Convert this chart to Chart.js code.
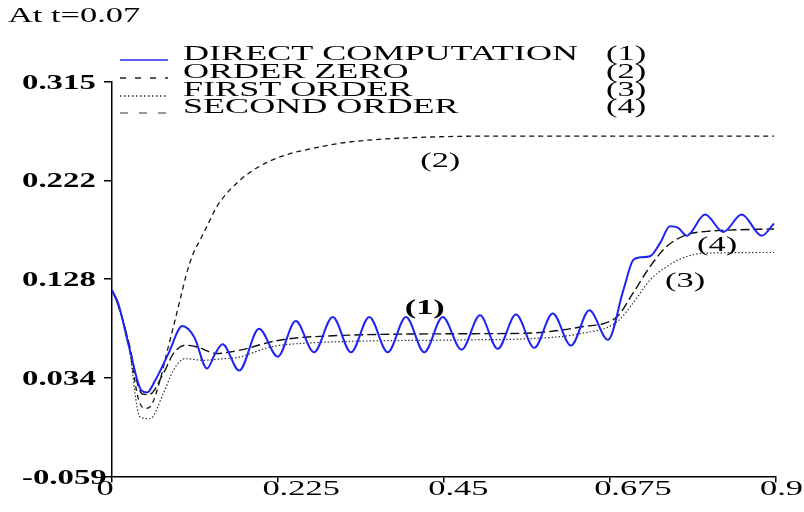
<!DOCTYPE html>
<html>
<head>
<meta charset="utf-8">
<script src="https://cdn.jsdelivr.net/npm/chart.js@4.4.1/dist/chart.umd.min.js"></script>
<style>
  html, body { margin: 0; padding: 0; background: #fff; }
  canvas { display: block; }
</style>
</head>
<body>
<canvas id="chart" width="804" height="512"></canvas>
<script>
// data
const xDirect = [0, 0.0085, 0.023, 0.0403, 0.0475, 0.0583, 0.0764, 0.0955, 0.1116, 0.129, 0.14, 0.15, 0.1725, 0.1994, 0.2248, 0.2492, 0.274, 0.2994, 0.3242, 0.349, 0.374, 0.3988, 0.4236, 0.4486, 0.4741, 0.4992, 0.5232, 0.548, 0.5728, 0.5978, 0.6226, 0.6475, 0.6728, 0.6936, 0.7071, 0.7162, 0.7298, 0.7434, 0.7569, 0.7682, 0.7796, 0.8044, 0.8292, 0.8542, 0.8813, 0.898];
const yDirect = [0.1175, 0.1048, 0.064, 0.0221, 0.0205, 0.0316, 0.0571, 0.0834, 0.0729, 0.0432, 0.0574, 0.0662, 0.0413, 0.0809, 0.0545, 0.0882, 0.0586, 0.092, 0.0586, 0.092, 0.0586, 0.092, 0.0586, 0.092, 0.061, 0.0936, 0.0619, 0.0943, 0.0628, 0.0953, 0.065, 0.0984, 0.0704, 0.1175, 0.1461, 0.1485, 0.1495, 0.162, 0.1779, 0.1764, 0.169, 0.189, 0.1725, 0.189, 0.169, 0.1805];

const xZero = [0, 0.0085, 0.0221, 0.036, 0.045, 0.0515, 0.0651, 0.0742, 0.0832, 0.0922, 0.1013, 0.1103, 0.1194, 0.1285, 0.142, 0.1556, 0.1736, 0.1917, 0.212, 0.2347, 0.2618, 0.3184, 0.4178, 0.544, 0.898];
const yZero = [0.1175, 0.103, 0.068, 0.014, 0.0055, 0.0068, 0.0321, 0.0577, 0.0826, 0.1079, 0.1335, 0.1524, 0.1648, 0.1774, 0.1963, 0.209, 0.2216, 0.2311, 0.239, 0.2453, 0.2501, 0.2574, 0.2621, 0.2633, 0.2633];

const xFirst = [0, 0.0085, 0.0221, 0.038, 0.0515, 0.0696, 0.0832, 0.099, 0.1238, 0.151, 0.1709, 0.215, 0.2618, 0.4856, 0.5625, 0.6348, 0.6846, 0.7067, 0.7298, 0.7524, 0.7796, 0.8067, 0.898];
const yFirst = [0.1175, 0.103, 0.068, -0.0027, -0.0043, 0.0195, 0.0415, 0.0526, 0.051, 0.0526, 0.0538, 0.0636, 0.0672, 0.0704, 0.0714, 0.0762, 0.0872, 0.1051, 0.127, 0.1397, 0.1493, 0.1525, 0.1531];

const xSecond = [0, 0.0085, 0.0221, 0.0403, 0.05, 0.0696, 0.0832, 0.0997, 0.1156, 0.142, 0.16, 0.1827, 0.215, 0.2618, 0.4856, 0.5625, 0.6348, 0.6846, 0.7067, 0.7298, 0.7524, 0.7796, 0.8067, 0.8288, 0.898];
const ySecond = [0.1175, 0.103, 0.0698, 0.0195, 0.0185, 0.0384, 0.0574, 0.0653, 0.0636, 0.0574, 0.0589, 0.0621, 0.0684, 0.0729, 0.0762, 0.0767, 0.0825, 0.092, 0.1146, 0.1397, 0.1588, 0.17, 0.1731, 0.1741, 0.1754];

const seriesNames = ["DIRECT COMPUTATION", "ORDER ZERO", "FIRST ORDER", "SECOND ORDER"];
const seriesTags = ["(1)", "(2)", "(3)", "(4)"];

const xTickValues = [0, 0.225, 0.45, 0.675, 0.9];
const xTickLabels = ["0", "0.225", "0.45", "0.675", "0.9"];
const yTickValues = [-0.059, 0.0345, 0.128, 0.2215, 0.315];
const yTickLabels = ["-0.059", "0.034", "0.128", "0.222", "0.315"];

const titleText = "At t=0.07";

// where the (n) tags sit next to the curves, in data units
const curveTags = [
  { text: "(1)", x: 0.397, y: 0.0951, bold: true },
  { text: "(2)", x: 0.418, y: 0.2344, bold: false },
  { text: "(3)", x: 0.7501, y: 0.1207, bold: false },
  { text: "(4)", x: 0.7935, y: 0.1548, bold: false },
];

const SX = 1.64; // the picture's lettering is stretched wide
const FONT = '"Liberation Serif", "Times New Roman", serif';

function toPoints(xs, ys) {
  return xs.map((x, i) => ({ x: x, y: ys[i] }));
}

function wideText(ctx, text, x, y, font) {
  ctx.save();
  ctx.font = font;
  ctx.textBaseline = "alphabetic";
  ctx.textAlign = "left";
  ctx.translate(x, y);
  ctx.scale(SX, 1);
  ctx.fillText(text, 0, 0);
  ctx.restore();
}

const legendDash = [[], [6, 9], [1.5, 2.5], [8, 11]];
const legendColor = ["#2a2df0", "#222", "#333", "#777"];

const textPlugin = {
  id: "textPlugin",
  afterDraw(chart) {
    const ctx = chart.ctx;
    const xs = chart.scales.x;
    const ys = chart.scales.y;
    ctx.fillStyle = "#000";

    wideText(ctx, titleText, 8, 22, "21px " + FONT);

    ys.ticks.forEach((t, i) => {
      wideText(ctx, yTickLabels[i], 22, ys.getPixelForValue(t.value) + 7, "bold 20px " + FONT);
    });
    xs.ticks.forEach((t, i) => {
      wideText(ctx, xTickLabels[i], xs.getPixelForValue(t.value) - 15.5, 495, "21px " + FONT);
    });

    // legend
    const baselines = [60, 78, 96, 113];
    seriesNames.forEach((name, i) => {
      const y = baselines[i];
      ctx.save();
      ctx.strokeStyle = legendColor[i];
      ctx.lineWidth = i === 0 ? 1.5 : 1.3;
      ctx.setLineDash(legendDash[i]);
      ctx.beginPath();
      ctx.moveTo(120, y);
      ctx.lineTo(168, y);
      ctx.stroke();
      ctx.restore();
      wideText(ctx, name, 183, y, "22px " + FONT);
      wideText(ctx, seriesTags[i], 606, y, "21px " + FONT);
    });

    curveTags.forEach((tag) => {
      wideText(ctx, tag.text, xs.getPixelForValue(tag.x), ys.getPixelForValue(tag.y),
        (tag.bold ? "bold " : "") + "21px " + FONT);
    });
  },
};

new Chart(document.getElementById("chart"), {
  type: "line",
  data: {
    datasets: [
      {
        label: seriesNames[0],
        data: toPoints(xDirect, yDirect),
        borderColor: "#1f24f2",
        borderWidth: 2,
      },
      {
        label: seriesNames[1],
        data: toPoints(xZero, yZero),
        borderColor: "#111",
        borderWidth: 1.3,
        borderDash: [5, 4],
      },
      {
        label: seriesNames[2],
        data: toPoints(xFirst, yFirst),
        borderColor: "#333",
        borderWidth: 1.2,
        borderDash: [1.5, 2],
      },
      {
        label: seriesNames[3],
        data: toPoints(xSecond, ySecond),
        borderColor: "#111",
        borderWidth: 1.4,
        borderDash: [9, 4],
      },
    ],
  },
  options: {
    responsive: false,
    animation: false,
    layout: { padding: { top: 81.5, right: 28.5, left: 0, bottom: 0 } },
    elements: {
      point: { radius: 0 },
      line: { cubicInterpolationMode: "monotone", fill: false },
    },
    plugins: {
      legend: { display: false },
      tooltip: { enabled: false },
    },
    scales: {
      x: {
        type: "linear",
        min: 0,
        max: 0.9,
        afterBuildTicks: (s) => { s.ticks = xTickValues.map((v) => ({ value: v })); },
        afterFit: (s) => { s.height = 35.5; },
        ticks: { display: false },
        grid: { drawOnChartArea: false, drawTicks: true, tickLength: 6, color: "#000", lineWidth: 1.5 },
        border: { display: true, color: "#000", width: 1.5 },
      },
      y: {
        type: "linear",
        min: -0.059,
        max: 0.315,
        afterBuildTicks: (s) => { s.ticks = yTickValues.map((v) => ({ value: v })); },
        afterFit: (s) => { s.width = 112; },
        ticks: { display: false },
        grid: { drawOnChartArea: false, drawTicks: true, tickLength: 8, color: "#000", lineWidth: 1.5 },
        border: { display: true, color: "#000", width: 1.5 },
      },
    },
  },
  plugins: [textPlugin],
});
</script>
</body>
</html>
